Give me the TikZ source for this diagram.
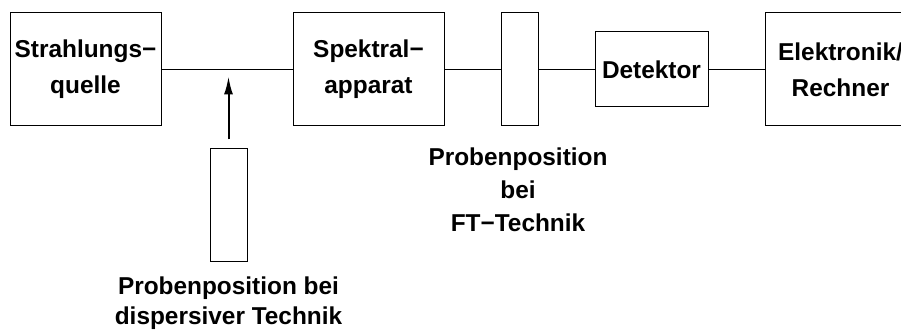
\documentclass[tikz,border=0pt]{standalone}
\usepackage{fontspec}
\setmainfont{Liberation Sans}
\usetikzlibrary{positioning,arrows.meta}

\begin{document}
\begin{tikzpicture}[x=0.5pt, y=-0.5pt,
  every node/.style = {font=\fontsize{12.2}{18}\bfseries\selectfont, align=center},
  block/.style = {shape=rectangle, draw, line width=0.5pt,
    minimum width=75.5pt, minimum height=56.5pt, inner sep=1.5pt},
  probe/.style = {shape=rectangle, draw, line width=0.5pt,
    minimum width=18.5pt, minimum height=56.5pt},
  strahl/.style = {draw, line width=0.5pt}
  ]
  \clip (0,0) rectangle (901,335);
  % Strahlengang
  \node[block] (quelle) at (85.5,69.5) {Strahlungs−\\quelle};
  \node[block, right=65.5pt of quelle] (spektral) {Spektral−\\apparat};
  \node[probe, right=28pt of spektral] (ftprobe) {};
  \node[block, minimum width=56.5pt, minimum height=37.5pt, right=28pt of ftprobe] (detektor) {Detektor};
  \node[block, right=28pt of detektor] (rechner) {Elektronik/\\Rechner};
  \path[strahl] (quelle) -- (spektral) -- (ftprobe) -- (detektor) -- (rechner);
  % Probe bei dispersiver Technik
  \node[probe] (dispprobe) at (228.5,205.5) {};
  \coordinate (einsatz) at (dispprobe.north |- quelle.east);
  \draw[line width=1pt, -{Latex[length=9pt,width=4.5pt]}]
    ([yshift=4.5pt]dispprobe.north) -- ([yshift=-3.5pt]einsatz);
  \node[font=\fontsize{12.2}{15}\bfseries\selectfont] (dispcap) at (228.5,303) {Probenposition bei\\dispersiver Technik};
  \node[font=\fontsize{12.2}{16.5}\bfseries\selectfont] (ftcap) at (518,190) {Probenposition\\bei\\FT−Technik};
\end{tikzpicture}
\end{document}
